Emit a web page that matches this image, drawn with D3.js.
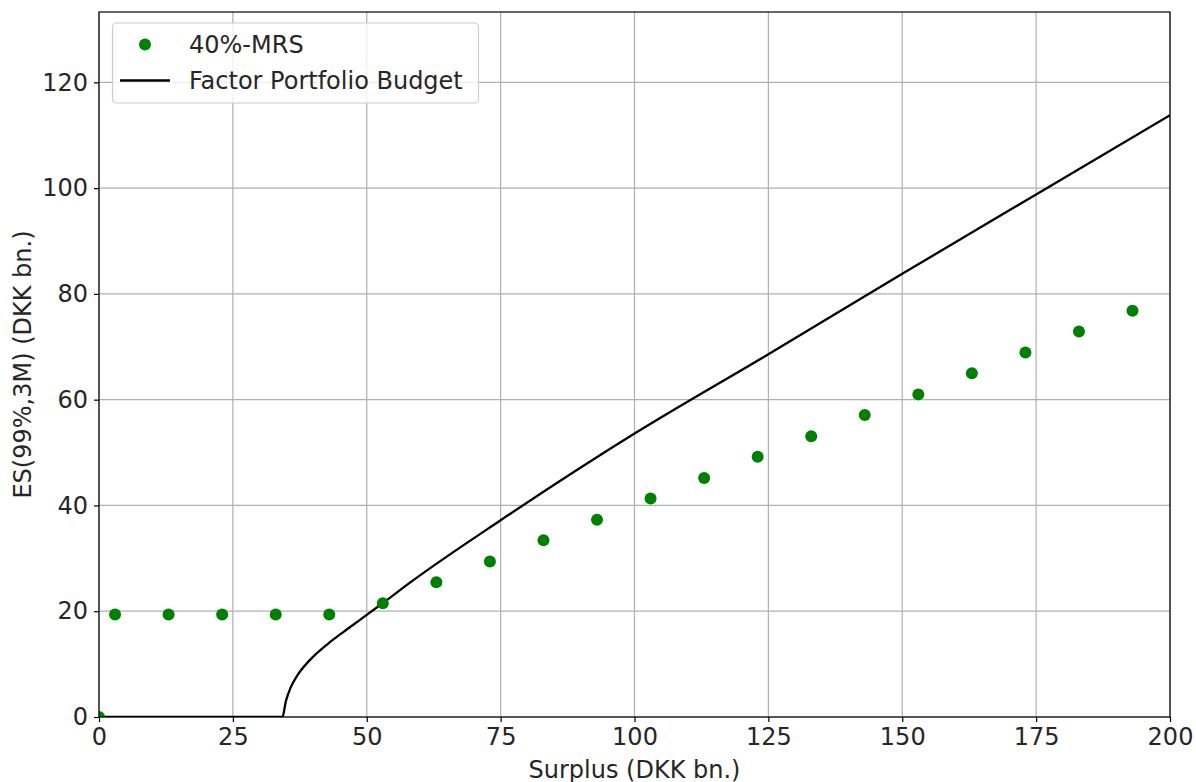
<!DOCTYPE html>
<html>
<head>
<meta charset="utf-8">
<script src="https://cdn.jsdelivr.net/npm/d3@7"></script>
<style>
  body { margin: 0; background: #fff; }
  svg text { font-family: "DejaVu Sans", sans-serif; fill: #262626; }
</style>
</head>
<body>
<svg id="chart" width="1196" height="782"></svg>
<script>
// 40%-MRS points
const mrsX = [0, 3, 13, 23, 33, 43, 53, 63, 73, 83, 93, 103, 113, 123, 133, 143, 153, 163, 173, 183, 193];
const mrsY = [0, 19.4, 19.4, 19.4, 19.4, 19.4, 21.5, 25.5, 29.4, 33.4, 37.3, 41.3, 45.2, 49.2, 53.1, 57.1, 61.0, 65.0, 68.9, 72.9, 76.8];

// Factor Portfolio Budget curve
const budgetX = [0, 34.25, 34.9, 35.8, 37.0, 39.5, 42.7, 45.8, 50, 53.2, 58.2, 75, 100, 125, 150, 175, 200];
const budgetY = [0, 0, 3.0, 5.6, 7.8, 10.9, 13.8, 16.2, 19.3, 21.7, 25.5, 37.2, 53.6, 68.6, 83.8, 98.8, 113.8];

const xTicks = [0, 25, 50, 75, 100, 125, 150, 175, 200];
const yTicks = [0, 20, 40, 60, 80, 100, 120];

const GREEN = '#008000';
const margin = { top: 12, right: 26, bottom: 65, left: 99 };
const width = 1196 - margin.left - margin.right;
const height = 782 - margin.top - margin.bottom;

const svg = d3.select('#chart');
const g = svg.append('g')
  .attr('transform', `translate(${margin.left},${margin.top})`);

const x = d3.scaleLinear().domain([0, 200]).range([0, width]);
const y = d3.scaleLinear().domain([0, 133.3]).range([height, 0]);

svg.append('defs').append('clipPath')
  .attr('id', 'plot-clip')
  .append('rect')
  .attr('width', width)
  .attr('height', height);

// grid
g.append('g')
  .selectAll('line')
  .data(xTicks)
  .join('line')
  .attr('x1', d => x(d)).attr('x2', d => x(d))
  .attr('y1', 0).attr('y2', height)
  .attr('stroke', '#b0b0b0')
  .attr('stroke-width', 1.2);

g.append('g')
  .selectAll('line')
  .data(yTicks)
  .join('line')
  .attr('y1', d => y(d)).attr('y2', d => y(d))
  .attr('x1', 0).attr('x2', width)
  .attr('stroke', '#b0b0b0')
  .attr('stroke-width', 1.2);

// axes
const xAxis = g.append('g')
  .attr('transform', `translate(0,${height})`)
  .call(d3.axisBottom(x).tickValues(xTicks).tickSize(5).tickPadding(6));
const yAxis = g.append('g')
  .call(d3.axisLeft(y).tickValues(yTicks).tickSize(5).tickPadding(6));

[xAxis, yAxis].forEach(a => {
  a.select('.domain').remove();
  a.selectAll('line').attr('stroke', '#000').attr('stroke-width', 1.2);
  a.selectAll('text')
    .style('font-family', '"DejaVu Sans", sans-serif')
    .style('font-size', '24px')
    .attr('fill', '#262626');
});

const plot = g.append('g').attr('clip-path', 'url(#plot-clip)');

// budget line
const budget = budgetX.map((v, i) => [v, budgetY[i]]);
plot.append('path')
  .datum(budget)
  .attr('fill', 'none')
  .attr('stroke', '#000')
  .attr('stroke-width', 2.3)
  .attr('stroke-linejoin', 'round')
  .attr('d', d3.line().x(d => x(d[0])).y(d => y(d[1])).curve(d3.curveMonotoneX));

// MRS points
const mrs = mrsX.map((v, i) => ({ x: v, y: mrsY[i] }));
plot.selectAll('circle')
  .data(mrs)
  .join('circle')
  .attr('cx', d => x(d.x))
  .attr('cy', d => y(d.y))
  .attr('r', 6)
  .attr('fill', GREEN);

// frame
g.append('rect')
  .attr('width', width)
  .attr('height', height)
  .attr('fill', 'none')
  .attr('stroke', '#000')
  .attr('stroke-width', 1.2);

// axis labels
svg.append('text')
  .attr('x', margin.left + width / 2)
  .attr('y', 778)
  .attr('text-anchor', 'middle')
  .style('font-size', '24px')
  .text('Surplus (DKK bn.)');

svg.append('text')
  .attr('transform', `translate(31,${margin.top + height / 2}) rotate(-90)`)
  .attr('text-anchor', 'middle')
  .style('font-size', '24px')
  .text('ES(99%,3M) (DKK bn.)');

// legend
const legend = svg.append('g');
legend.append('rect')
  .attr('x', 112.5).attr('y', 23)
  .attr('width', 366).attr('height', 80)
  .attr('rx', 4)
  .attr('fill', 'rgba(255,255,255,0.8)')
  .attr('stroke', '#cccccc')
  .attr('stroke-width', 1.2);
legend.append('circle')
  .attr('cx', 145).attr('cy', 44.5).attr('r', 6)
  .attr('fill', GREEN);
legend.append('line')
  .attr('x1', 120).attr('x2', 170)
  .attr('y1', 80.5).attr('y2', 80.5)
  .attr('stroke', '#000').attr('stroke-width', 2.3);
legend.append('text')
  .attr('x', 189).attr('y', 53)
  .style('font-size', '24px')
  .text('40%-MRS');
legend.append('text')
  .attr('x', 189).attr('y', 89)
  .style('font-size', '24px')
  .text('Factor Portfolio Budget');
</script>
</body>
</html>
